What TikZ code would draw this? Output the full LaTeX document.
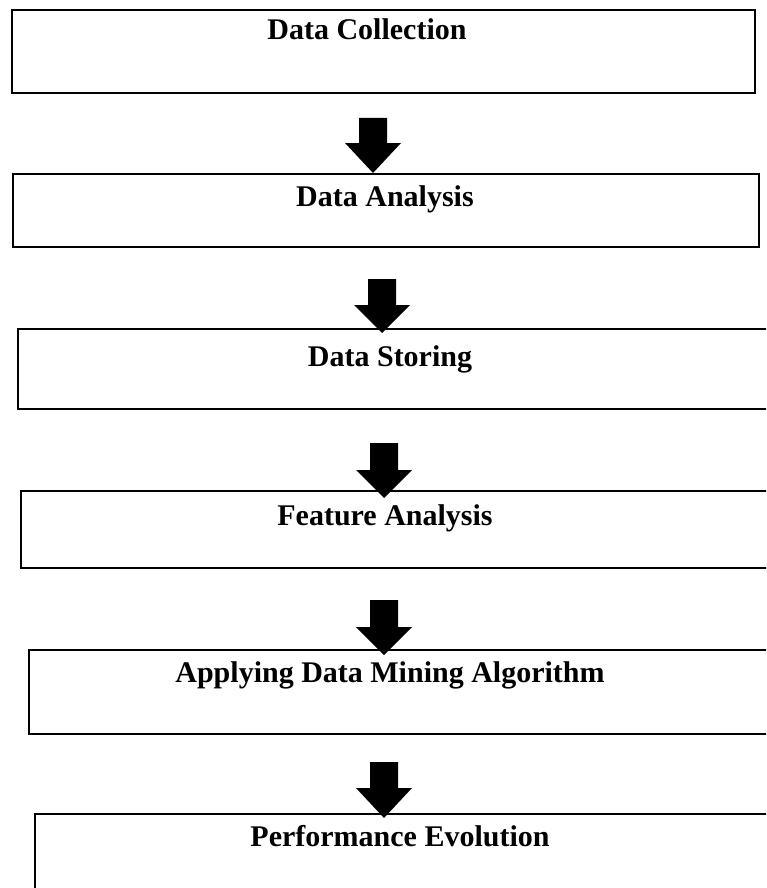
\documentclass[tikz,border=0pt]{standalone}
\usepackage{fontspec}
\setmainfont{Liberation Serif}
\begin{document}
\begin{tikzpicture}[x=1pt,y=-1pt,
  stagebox/.style={draw=black,line width=2.8pt},
  stagetext/.style={font=\bfseries\fontsize{30}{34}\selectfont,inner sep=0pt,anchor=base},
  blockarrow/.style={fill=black}]
\useasboundingbox (0,0) rectangle (766,888);
\clip (0,0) rectangle (766,888);
% boxes
\draw[stagebox] (12,10) rectangle (755,93);
\draw[stagebox] (13,174) rectangle (759,247);
\draw[stagebox] (18,329) rectangle (790,409);
\draw[stagebox] (21,491) rectangle (790,568);
\draw[stagebox] (29,650) rectangle (790,734);
\draw[stagebox] (35,814) rectangle (790,900);
% texts
\node[stagetext] (t1) at (367,40) {Data Collection};
\node[stagetext] (t2) at (385,206) {Data Analysis};
\node[stagetext] (t3) at (390,366) {Data Storing};
\node[stagetext] (t4) at (385,525) {Feature Analysis};
\node[stagetext] (t5) at (390,682) {Applying Data Mining Algorithm};
\node[stagetext] (t6) at (400,846) {Performance Evolution};
% arrows
\newcommand{\blockarr}[4]{% x, top, headstart, tip
  \fill[blockarrow] (#1-14,#2) -- (#1+14,#2) -- (#1+14,#3) -- (#1+28,#3) -- (#1,#4) -- (#1-28,#3) -- (#1-14,#3) -- cycle;}
\blockarr{373}{118}{143}{173}
\blockarr{382}{279}{305}{333}
\blockarr{384}{443}{470}{498}
\blockarr{384}{600}{627}{655}
\blockarr{384}{762}{788}{818}
\end{tikzpicture}
\end{document}
